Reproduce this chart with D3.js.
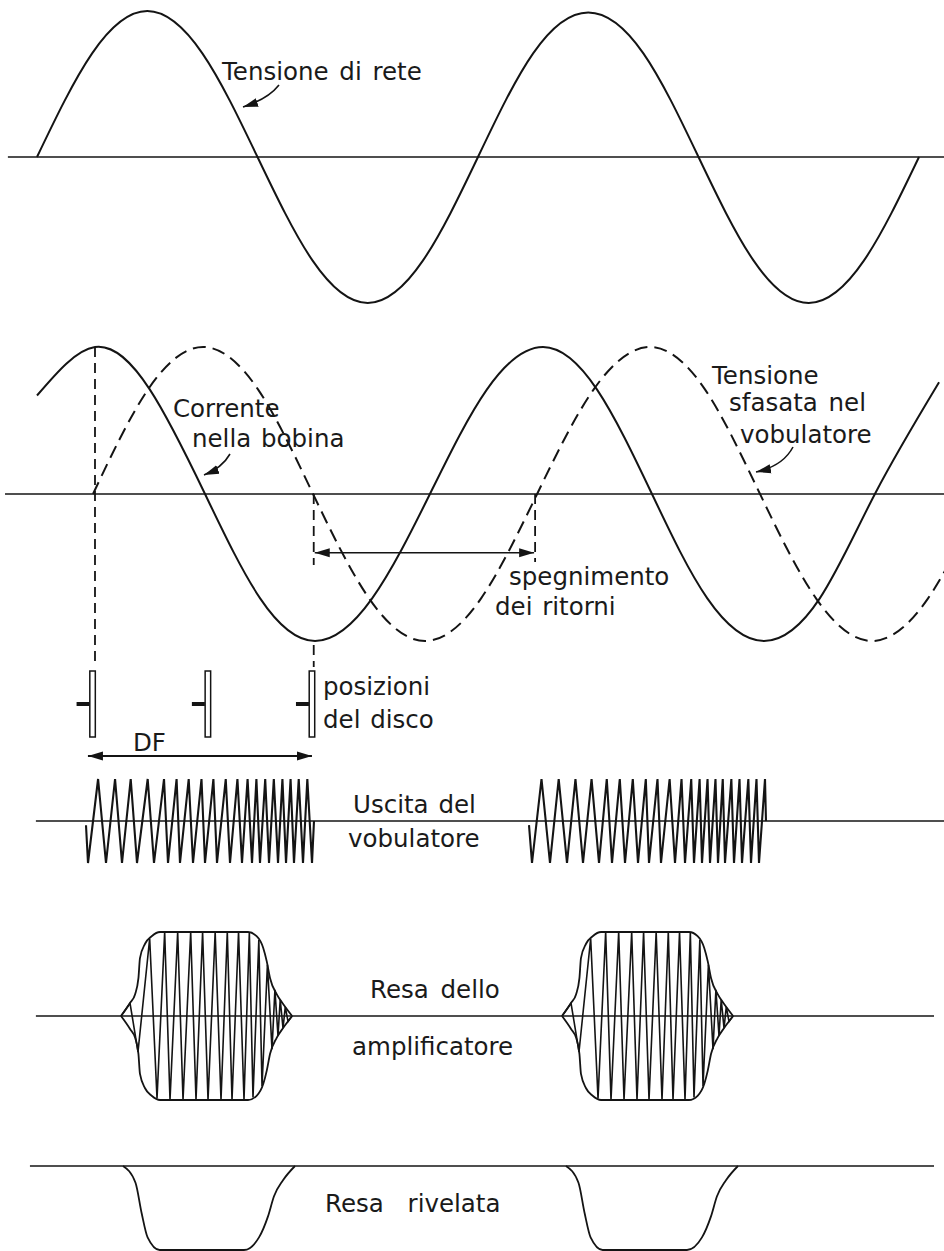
<!DOCTYPE html>
<html><head><meta charset="utf-8">
<script src="https://cdn.jsdelivr.net/npm/d3@7"></script>
<style>
html,body{margin:0;padding:0;background:#fff;}
svg{display:block;}
text{font-family:"DejaVu Sans",sans-serif;font-size:24.5px;fill:#1a1a1a;}
</style></head><body>
<svg id="c" width="944" height="1251"></svg>
<script>
// ---------- DATA (time in ms, amplitudes normalised to 1) ----------
// Panel 1: mains voltage
const mainsT = [0,2.5,5,7.5,10,12.5,15,17.5,20,22.5,25,27.5,30,32.5,35,37.5,40];
const mainsV = [0,0.71,1,0.71,0,-0.71,-1,-0.71,0,0.71,0.99,0.71,0,-0.71,-1,-0.71,0];
// Panel 2: coil current (solid) and phase-shifted voltage (dashed)
const coilT = [0,2.63,5.12,7.62,10.12,12.61,15.2,17.82,20.4,22.95,25.4,27.89,30.4,32.97,35.5,38.0,40.91];
const coilV = [0.67,1,0.71,0,-0.71,-1,-0.71,0,0.71,1,0.71,0,-0.71,-1,-0.71,0,0.76];
const shiftT = [2.54,5.03,7.53,10.03,12.52,15.06,17.60,20.14,22.68,25.24,27.80,30.30,32.79,35.33,37.87,40.41,42.94];
const shiftV = [0,0.71,1,0.71,0,-0.71,-1,-0.71,0,0.71,1,0.71,0,-0.71,-1,-0.71,0];
// disc positions and guide times
const discT = [2.52,7.75,12.47];
const blankStart = 12.55, blankEnd = 22.59, peakGuideT = 2.63;
const dfStart = 2.31, dfEnd = 12.47;
// Panel 3: sweep generator output (turning points)
const sweep1Start = [2.222,-0.1], sweep1End = [12.562,0];
const sweep1Troughs = [2.313,3.129,3.855,4.535,5.306,5.941,6.485,7.075,7.619,8.163,8.753,9.297,9.751,10.113,10.522,10.930,11.293,11.655,12.063,12.472];
const sweep1Peaks = [2.77,3.54,4.25,5.02,5.76,6.33,6.88,7.46,8.00,8.56,9.09,9.55,9.95,10.35,10.74,11.13,11.50,11.87,12.26];
const sweep2Start = [22.313,-0.1], sweep2End = [33.06,0];
const sweep2Troughs = [22.449,23.265,24.036,24.762,25.488,26.077,26.667,27.256,27.755,28.299,28.934,29.388,29.796,30.159,30.522,30.884,31.202,31.610,31.973,32.381,32.744];
const sweep2Peaks = [22.88,23.66,24.42,25.15,25.84,26.43,27.02,27.61,28.14,28.69,29.23,29.67,30.05,30.41,30.77,31.10,31.49,31.86,32.26,32.63,33.016];
// Panel 4: amplifier response (envelope profile + carrier turning points, offsets in ms)
const ampBurstStarts = [3.81,23.81];
const envDT = [0,0.41,0.64,0.79,0.86,1.09,1.39,1.77,5.76,6.15,6.45,6.61,6.76,7.06,7.36,7.76];
const envA  = [0,0.155,0.26,0.45,0.69,0.86,0.95,1.0,1.0,0.95,0.81,0.65,0.45,0.26,0.14,0];
const carrierPeaks = [0.408,1.30,1.98,2.57,3.16,3.70,4.27,4.82,5.33,5.82,6.25,6.64,6.98,7.22,7.45];
const carrierTroughs = [0.771,1.633,2.222,2.812,3.401,3.946,4.535,5.034,5.578,5.986,6.395,6.848,7.120,7.347,7.574];
// Panel 5: detected response (dip profile)
const dipStarts = [3.90,23.99];
const dipDT = [0,0.567,0.844,1.116,1.660,5.488,6.168,6.576,6.848,7.256,7.800];
const dipV  = [0,-0.2,-0.56,-0.85,-1,-1,-0.85,-0.6,-0.36,-0.17,0];

// ---------- LAYOUT ----------
const svg = d3.select("#c");
const ink = "#141414";
const x = d3.scaleLinear().domain([0,40]).range([37,919]);
const yS = (axis,amp)=>d3.scaleLinear().domain([-1,1]).range([axis+amp,axis-amp]);
const y1=yS(157,146), y2=yS(494,147), y3=yS(821,42), y4=yS(1016,84), y5=yS(1166,84);
const zip=(a,b)=>a.map((d,i)=>[d,b[i]]);
const gen=(ys,curve)=>d3.line().x(d=>x(d[0])).y(d=>ys(d[1])).curve(curve||d3.curveLinear);

const defs = svg.append("defs");
defs.append("marker").attr("id","ah").attr("viewBox","-15 -6 16 12")
  .attr("refX",0).attr("refY",0).attr("markerWidth",16).attr("markerHeight",12)
  .attr("markerUnits","userSpaceOnUse").attr("orient","auto-start-reverse")
  .append("path").attr("d","M-15,-4.5L0,0L-15,4.5Z").attr("fill",ink);

// axes (horizontal baselines)
const axes = [[y1,-1.32,41.2],[y2,-1.45,41.2],[y3,-0.05,41.2],[y4,-0.05,40.68],[y5,-0.32,40.68]];
axes.forEach(([ys,a,b])=>{
  svg.append("path").attr("d",gen(ys)([[a,0],[b,0]])).attr("stroke",ink).attr("stroke-width",1.6).attr("fill","none");
});

// Panel 1
svg.append("path").attr("d",gen(y1,d3.curveNatural)(zip(mainsT,mainsV)))
  .attr("fill","none").attr("stroke",ink).attr("stroke-width",2);
// Panel 2
svg.append("path").attr("d",gen(y2,d3.curveNatural)(zip(coilT,coilV)))
  .attr("fill","none").attr("stroke",ink).attr("stroke-width",2);
svg.append("path").attr("d",gen(y2,d3.curveNatural)(zip(shiftT,shiftV)))
  .attr("fill","none").attr("stroke",ink).attr("stroke-width",2).attr("stroke-dasharray","13,7");

// vertical dashed guides
const discTop = 671, discBot = 737;
const guides = [
  [peakGuideT, y2(1), discTop-6],
  [blankStart, y2(0), 565],
  [blankStart, y2(-1)+4, discTop-4],
  [blankEnd, y2(0), 562]
];
guides.forEach(([t,a,b])=>{
  svg.append("line").attr("x1",x(t)).attr("x2",x(t)).attr("y1",a).attr("y2",b)
    .attr("stroke",ink).attr("stroke-width",1.8).attr("stroke-dasharray","10,6");
});
// blanking arrow
svg.append("line").attr("x1",x(blankStart)+1).attr("x2",x(blankEnd)-1)
  .attr("y1",y2(-0.4)).attr("y2",y2(-0.4)).attr("stroke",ink).attr("stroke-width",1.6)
  .attr("marker-start","url(#ah)").attr("marker-end","url(#ah)");

// discs
discT.forEach(t=>{
  const cx=x(t);
  svg.append("rect").attr("x",cx-2.75).attr("y",discTop).attr("width",5.5).attr("height",discBot-discTop)
    .attr("fill","#fff").attr("stroke",ink).attr("stroke-width",1.5);
  svg.append("line").attr("x1",cx-16).attr("x2",cx-3).attr("y1",(discTop+discBot)/2).attr("y2",(discTop+discBot)/2)
    .attr("stroke",ink).attr("stroke-width",4);
});
// DF arrow
svg.append("line").attr("x1",x(dfStart)).attr("x2",x(dfEnd)).attr("y1",756).attr("y2",756)
  .attr("stroke",ink).attr("stroke-width",2).attr("marker-start","url(#ah)").attr("marker-end","url(#ah)");

// Panel 3 sweeps
function zig(start,troughs,peaks,end){
  const pts=[start];
  troughs.forEach(t=>pts.push([t,-1]));
  peaks.forEach(t=>pts.push([t,1]));
  pts.sort((a,b)=>a[0]-b[0]);
  pts.push(end);
  return pts;
}
[[sweep1Start,sweep1Troughs,sweep1Peaks,sweep1End],[sweep2Start,sweep2Troughs,sweep2Peaks,sweep2End]].forEach(s=>{
  svg.append("path").attr("d",gen(y3)(zig(...s))).attr("fill","none").attr("stroke",ink)
    .attr("stroke-width",2.1).attr("stroke-linejoin","miter");
});

// Panel 4 amplifier response
const env = d3.scaleLinear().domain(envDT).range(envA).clamp(true);
ampBurstStarts.forEach(s=>{
  const up = envDT.map((d,i)=>[s+d, envA[i]]);
  const lo = envDT.map((d,i)=>[s+d, -envA[i]]);
  svg.append("path").attr("d",gen(y4,d3.curveMonotoneX)(up)).attr("fill","none").attr("stroke",ink).attr("stroke-width",1.8);
  svg.append("path").attr("d",gen(y4,d3.curveMonotoneX)(lo)).attr("fill","none").attr("stroke",ink).attr("stroke-width",1.8);
  const pts=[[0,0]];
  carrierPeaks.forEach(t=>pts.push([t,1]));
  carrierTroughs.forEach(t=>pts.push([t,-1]));
  pts.sort((a,b)=>a[0]-b[0]);
  pts.push([envDT[envDT.length-1],0]);
  const c = pts.map(([dt,sg])=>[s+dt, sg*env(dt)]);
  svg.append("path").attr("d",gen(y4)(c)).attr("fill","none").attr("stroke",ink).attr("stroke-width",1.6);
});

// Panel 5 detected response
dipStarts.forEach(s=>{
  svg.append("path").attr("d",gen(y5,d3.curveMonotoneX)(dipDT.map((d,i)=>[s+d,dipV[i]])))
    .attr("fill","none").attr("stroke",ink).attr("stroke-width",1.8);
});

// pointer arrows
const pointers = ["M279,85 Q268,99 243,107","M230,454 Q222,468 204,475","M793,447 Q783,466 756,472"];
pointers.forEach(d=>svg.append("path").attr("d",d).attr("fill","none").attr("stroke",ink)
  .attr("stroke-width",1.6).attr("marker-end","url(#ah)"));

// labels
const labels = [
  ["Tensione di rete",222,80,3],["Corrente",173,417,0],["nella bobina",192,447,2],
  ["Tensione",712,384,0],["sfasata nel",729,411,3],["vobulatore",740,443,0],
  ["spegnimento",509,585,0],["dei ritorni",495,615,2],
  ["posizioni",323,695,0],["del disco",323,728,2],["DF",133,751,0],
  ["Uscita del",353,813,2],["vobulatore",348,847,0],
  ["Resa dello",370,998,4],["amplificatore",352,1055,0],["Resa rivelata",325,1212,16]
];
svg.selectAll("text.lbl").data(labels).enter().append("text").attr("class","lbl")
  .attr("x",d=>d[1]).attr("y",d=>d[2]).attr("word-spacing",d=>d[3]).text(d=>d[0]);
</script>
</body></html>
